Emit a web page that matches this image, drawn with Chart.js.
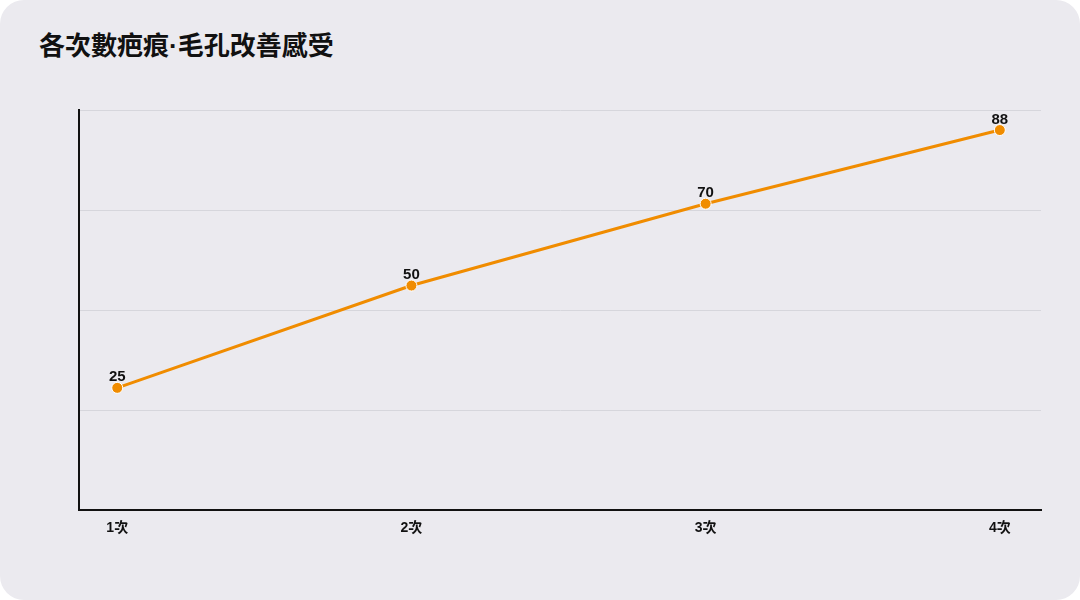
<!DOCTYPE html>
<html>
<head>
<meta charset="utf-8">
<script src="https://cdn.jsdelivr.net/npm/chart.js@4/dist/chart.umd.min.js"></script>
<style>
  html, body { margin: 0; padding: 0; background: #ffffff; }
  .card {
    position: relative;
    width: 1080px; height: 600px;
    background: #ebeaef;
    border-radius: 24px;
    overflow: hidden;
  }
  h1 {
    position: absolute; left: 39px; top: 25px; margin: 0;
    font: 700 26px "Noto Sans CJK TC", "Noto Sans", sans-serif;
    color: #111;
    letter-spacing: 0;
  }
  h1 .dot { font-family: "Liberation Sans", sans-serif; }
  .wrap { position: absolute; left: 0; top: 0; width: 1080px; height: 600px; }
</style>
</head>
<body>
<div class="card">
  <h1>各次數疤痕<span class="dot">·</span>毛孔改善感受</h1>
  <div class="wrap"><canvas id="chart"></canvas></div>
</div>
<script>
const sessions = ["1次", "2次", "3次", "4次"];
const scores = [25, 50, 70, 88];

const FONT = '"Liberation Sans", "Noto Sans CJK TC", sans-serif';

// number labels above each point
const valueLabels = {
  id: "valueLabels",
  afterDatasetsDraw(chart) {
    const { ctx } = chart;
    const meta = chart.getDatasetMeta(0);
    ctx.save();
    ctx.font = "700 15px " + FONT;
    ctx.fillStyle = "#111";
    ctx.textAlign = "center";
    ctx.textBaseline = "bottom";
    meta.data.forEach((pt, i) => {
      ctx.fillText(String(scores[i]), pt.x, pt.y - 3);
    });
    ctx.restore();
  }
};

const ctx = document.getElementById("chart").getContext("2d");
new Chart(ctx, {
  type: "line",
  data: {
    datasets: [{
      data: scores.map((v, i) => ({ x: i, y: v })),
      borderColor: "#f08c00",
      backgroundColor: "#f08c00",
      borderWidth: 3,
      pointRadius: 5.5,
      pointBorderColor: "#ffffff",
      pointBorderWidth: 1,
      pointBackgroundColor: "#f08c00",
      tension: 0,
      fill: false
    }]
  },
  options: {
    responsive: true,
    maintainAspectRatio: false,
    animation: false,
    layout: { padding: { left: 79, right: 39, top: 110, bottom: 61 } },
    plugins: { legend: { display: false }, tooltip: { enabled: false } },
    scales: {
      x: {
        type: "linear",
        min: -0.13,
        max: 3.14,
        grid: { display: false },
        border: { color: "#111", width: 2 },
        ticks: {
          stepSize: 1,
          includeBounds: false,
          color: "#111",
          font: { family: FONT, size: 14, weight: "700" },
          padding: 2,
          callback: v => sessions[v] ?? ""
        }
      },
      y: {
        min: -4.9,
        max: 92.9,
        grid: { color: "#d6d6dc", lineWidth: 1, drawTicks: false },
        border: { color: "#111", width: 2 },
        ticks: { display: false, count: 5 }
      }
    }
  },
  plugins: [valueLabels]
});
</script>
</body>
</html>
